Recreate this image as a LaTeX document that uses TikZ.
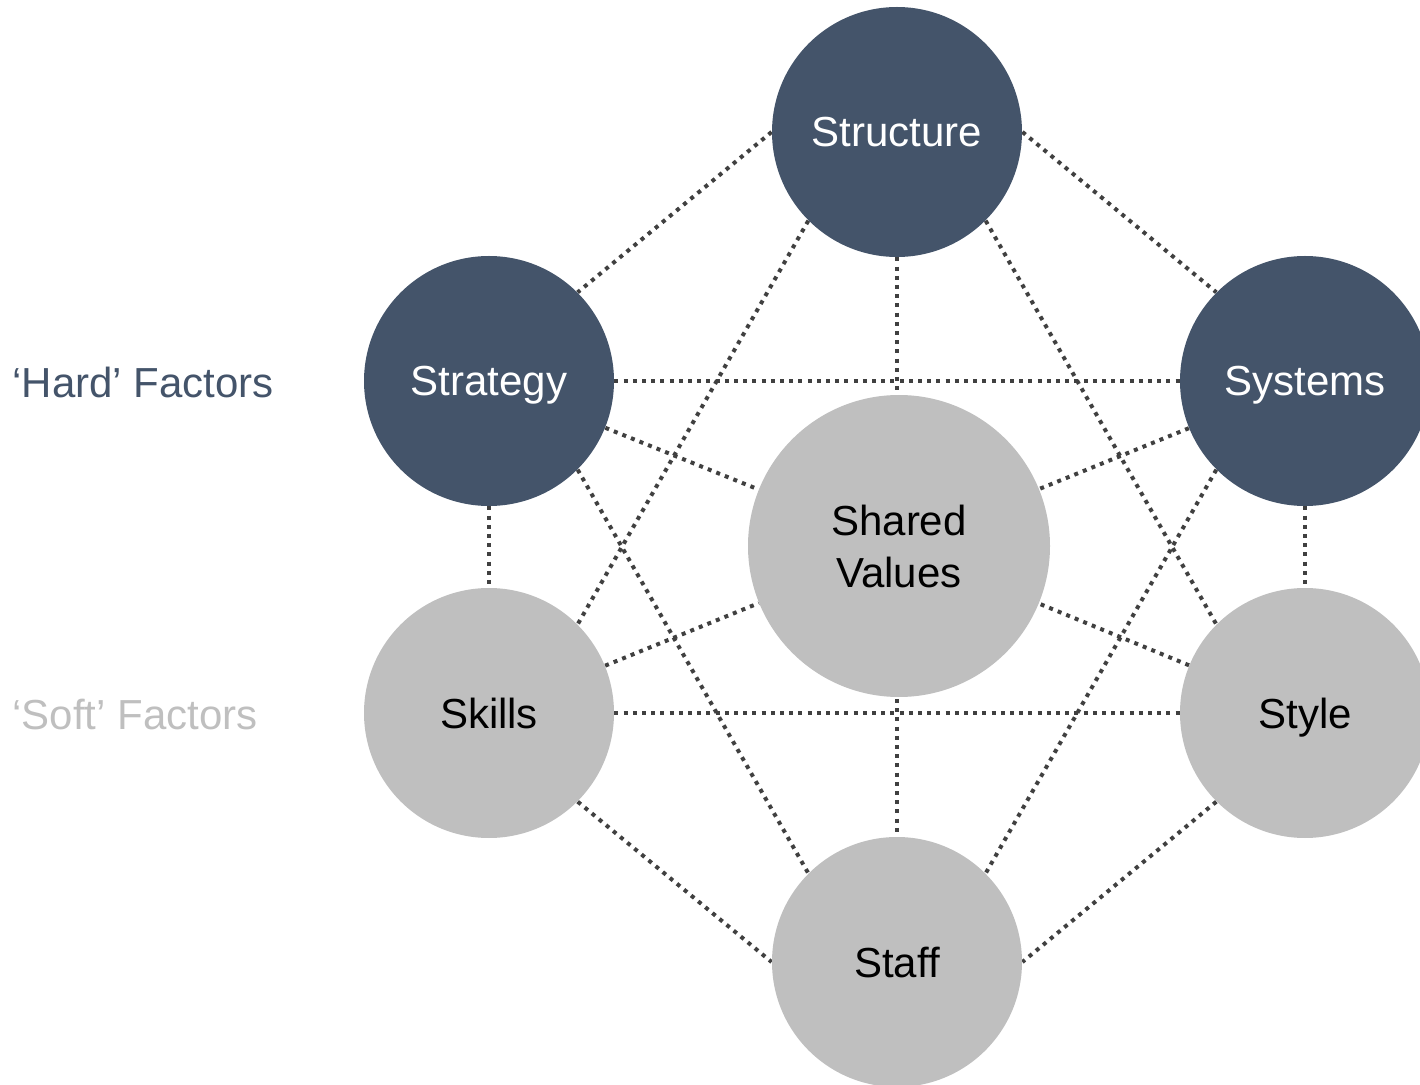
\documentclass[tikz,border=0pt]{standalone}
\usepackage{fontspec}
\setmainfont{Liberation Sans}
\usetikzlibrary{backgrounds}

\definecolor{hardblue}{HTML}{44546A}
\definecolor{softgray}{HTML}{BFBFBF}
\definecolor{linkgray}{HTML}{404040}

\tikzset{
  factor/.style={circle,inner sep=0pt,minimum size=125pt,align=center,text depth=0pt,font=\fontsize{21}{26}\selectfont},
  hard/.style={factor,fill=hardblue,text=white},
  soft/.style={factor,fill=softgray,text=black},
  link/.style={draw=linkgray,line width=2pt,dash pattern=on 2pt off 2.6pt},
  side/.style={inner sep=0pt,anchor=base west,font=\fontsize{21}{26}\selectfont}
}

\begin{document}
\begin{tikzpicture}[x=0.5pt,y=-0.5pt]
  \useasboundingbox (0,0) rectangle (1420,1085);
  \clip (0,0) rectangle (1420,1085);

  % hard factors
  \node[hard] (structure) at (897,132) {Structure};
  \node[hard] (strategy) at (489,381) {Strategy};
  \node[hard] (systems) at (1305,381) {Systems};

  % soft factors
  \node[soft,minimum size=151pt] (values) at (899,546) {Shared\\Values};
  \node[soft] (skills) at (489,713) {Skills};
  \node[soft] (style) at (1305,713) {Style};
  \node[soft] (staff) at (897,962) {Staff};

  \node[side,text=hardblue] (hardlabel) at (12,398) {‘Hard’ Factors};
  \node[side,text=softgray] (softlabel) at (12,729) {‘Soft’ Factors};

  \begin{scope}[on background layer]
    \draw[link] (structure.west) -- (strategy.north east);
    \draw[link] (structure.east) -- (systems.north west);
    \draw[link] (structure.south west) -- (skills.north east);
    \draw[link] (structure.south east) -- (style.north west);
    \draw[link] (structure.south) -- (staff.north);

    \draw[link] (strategy.east) -- (systems.west);
    \draw[link] (skills.east) -- (style.west);
    \draw[link] (strategy.south) -- (skills.north);
    \draw[link] (systems.south) -- (style.north);

    \draw[link] (strategy.south east) -- (staff.north west);
    \draw[link] (systems.south west) -- (staff.north east);
    \draw[link] (skills.south east) -- (staff.west);
    \draw[link] (style.south west) -- (staff.east);

    \draw[link] (strategy) -- (values);
    \draw[link] (systems) -- (values);
    \draw[link] (skills) -- (values);
    \draw[link] (style) -- (values);
  \end{scope}
\end{tikzpicture}
\end{document}
